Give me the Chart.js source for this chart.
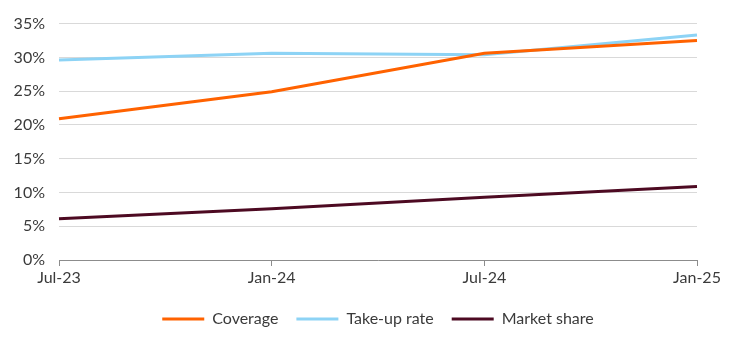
<!DOCTYPE html>
<html>
<head>
<meta charset="utf-8">
<script src="https://cdn.jsdelivr.net/npm/chart.js@4"></script>
<style>
  html, body { margin: 0; padding: 0; background: #fff; }
  #wrap { width: 744px; height: 343px; position: relative; }
</style>
</head>
<body>
<div id="wrap"><canvas id="grafico"></canvas></div>
<script>
// --- DATA ---
const periodos = ['Jul-23', 'Jan-24', 'Jul-24', 'Jan-25'];
const coverage = [20.9, 24.9, 30.6, 32.5];
const takeUpRate = [29.6, 30.6, 30.4, 33.3];
const marketShare = [6.1, 7.6, 9.3, 10.9];
const yTicks = [0, 5, 10, 15, 20, 25, 30, 35];

const textColor = '#3a3a3a';
const fonte = { family: 'Lato', size: 16 };

const ctx = document.getElementById('grafico').getContext('2d');

new Chart(ctx, {
    type: 'line',
    data: {
        labels: periodos,
        datasets: [
            { label: 'Coverage', data: coverage, borderColor: '#ff6200', backgroundColor: '#ff6200' },
            { label: 'Take-up rate', data: takeUpRate, borderColor: '#8dd3f5', backgroundColor: '#8dd3f5' },
            { label: 'Market share', data: marketShare, borderColor: '#4d0a22', backgroundColor: '#4d0a22' }
        ]
    },
    options: {
        responsive: true,
        maintainAspectRatio: false,
        animation: false,
        elements: {
            line: { borderWidth: 3, tension: 0 },
            point: { radius: 0 }
        },
        layout: { padding: { top: 22, right: 0, left: 12, bottom: 6 } },
        plugins: {
            tooltip: { enabled: false },
            legend: {
                position: 'bottom',
                labels: {
                    color: textColor,
                    font: fonte,
                    boxWidth: 42,
                    boxHeight: 3,
                    padding: 18,
                    generateLabels: function(chart) {
                        const itens = Chart.defaults.plugins.legend.labels.generateLabels(chart);
                        itens.forEach(i => { i.lineWidth = 0; });
                        return itens;
                    }
                }
            }
        },
        scales: {
            x: {
                grid: { drawOnChartArea: false, color: '#8c8c8c', tickLength: 6 },
                border: { color: '#8c8c8c' },
                ticks: { color: textColor, font: fonte, maxRotation: 0, padding: 2 },
                afterFit: function(scale) { scale.height = 33; }
            },
            y: {
                min: 0,
                max: 35,
                grid: { color: '#d9d9d9', drawTicks: false },
                border: { display: false },
                afterBuildTicks: function(scale) {
                    scale.ticks = yTicks.map(v => ({ value: v }));
                },
                ticks: {
                    color: textColor,
                    font: fonte,
                    padding: 14,
                    callback: function(value) { return value + '%'; }
                },
                afterFit: function(scale) { scale.width = 47; }
            },
            // eixo vazio só para reservar a margem direita
            yDireita: {
                position: 'right',
                min: 0,
                max: 35,
                grid: { display: false },
                border: { display: false },
                ticks: { display: false },
                afterFit: function(scale) { scale.width = 47; }
            }
        }
    }
});
</script>
</body>
</html>
